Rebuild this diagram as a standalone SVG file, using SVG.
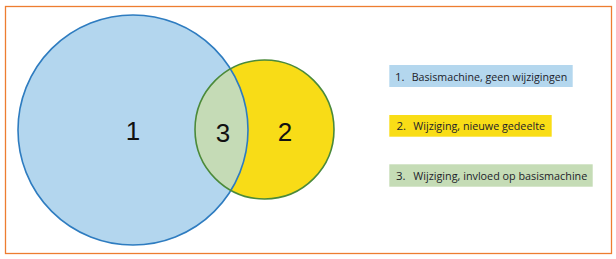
<svg xmlns="http://www.w3.org/2000/svg" width="616" height="259" viewBox="0 0 616 259">
<defs>
<style>
.frame{fill:#ffffff;stroke:#ed7d31;stroke-width:1.3}
.big{font-family:"Liberation Sans",Arial,sans-serif;font-size:26px;fill:#111;text-anchor:middle}
.leg{font-family:"Open Sans","Liberation Sans",sans-serif;font-size:11.5px;fill:#1c1c2a}
</style>
<clipPath id="clipBlue"><circle cx="133" cy="130" r="115"/></clipPath>
</defs>
<rect class="frame" x="5.5" y="6.5" width="606" height="247"/>
<g id="set1">
<circle cx="133" cy="130" r="115" fill="#b3d6ee"/>
</g>
<g id="set2">
<circle cx="264.5" cy="129.5" r="69.5" fill="#f8dc17"/>
</g>
<g id="overlap">
<circle cx="264.5" cy="129.5" r="69.5" fill="#c5dbb6" clip-path="url(#clipBlue)"/>
</g>
<g id="outlines">
<circle cx="133" cy="130" r="115" fill="none" stroke="#2e7cc0" stroke-width="1.6"/>
<circle cx="264.5" cy="129.5" r="69.5" fill="none" stroke="#4b8a3a" stroke-width="1.6"/>
</g>
<g id="labels">
<text class="big" x="133" y="140">1</text>
<text class="big" x="223" y="141.5">3</text>
<text class="big" x="285" y="141">2</text>
</g>
<g id="legend1">
<rect x="389.3" y="65" width="183.4" height="22" fill="#b4d7ee"/>
<text class="leg" x="395" y="80.5">1.</text>
<text class="leg" x="411.7" y="80.5" textLength="155.6" lengthAdjust="spacingAndGlyphs">Basismachine, geen wijzigingen</text>
</g>
<g id="legend2">
<rect x="389.3" y="115" width="162.4" height="21.7" fill="#f9dd16"/>
<text class="leg" x="396.5" y="130">2.</text>
<text class="leg" x="413.3" y="130" textLength="131.7" lengthAdjust="spacingAndGlyphs">Wijziging, nieuwe gedeelte</text>
</g>
<g id="legend3">
<rect x="389.3" y="164.3" width="203.4" height="22.4" fill="#c5dcb6"/>
<text class="leg" x="396" y="179.5">3.</text>
<text class="leg" x="413.3" y="179.5" textLength="174" lengthAdjust="spacingAndGlyphs">Wijziging, invloed op basismachine</text>
</g>
</svg>
